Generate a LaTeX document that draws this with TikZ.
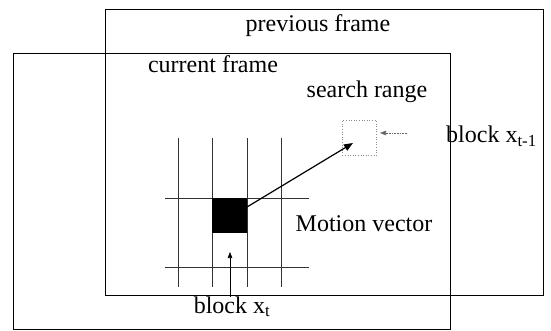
\documentclass[tikz,border=0pt]{standalone}
\usepackage{fontspec}
\setmainfont{Liberation Serif}
\usetikzlibrary{arrows.meta}
\begin{document}
\begin{tikzpicture}[x=1pt,y=-1pt,
  frame/.style={draw=black,line width=0.9pt},
  gridline/.style={draw=black!80,line width=0.5pt},
  lbl/.style={font=\fontsize{24}{28}\selectfont,inner sep=0pt},
  vec/.style={draw=black,line width=1.2pt,-{Triangle[length=9pt,width=7pt]}},
  thin arrow/.style={draw=black,line width=0.6pt,-{Triangle[length=6pt,width=4.5pt]}}]
\useasboundingbox (0,0) rectangle (551,331);
\fill[white] (0,0) rectangle (551,331);
% frames
\draw[frame] (105,9) rectangle (543,295);
\draw[frame] (13,53) rectangle (450,329);
% grid
\foreach \x/\n in {178/a,212/b,247/c,281/d}
  \draw[gridline] (\x,138) -- (\x,287);
\draw[gridline] (165,198) -- (309,198);
\draw[gridline] (165,267) -- (309,267);
% current block
\node[fill=black,minimum width=35pt,minimum height=35pt,inner sep=0pt,anchor=north west] (cur) at (212,198) {};
% search block (dotted)
\node[draw=black!45,dotted,line width=0.6pt,minimum width=34pt,minimum height=35pt,inner sep=0pt,anchor=north west] (prev) at (342,120) {};
% texts
\node[lbl,anchor=base] (tprev) at (318,32) {previous frame};
\node[lbl,anchor=base] (tcur) at (213,73) {current frame};
\node[lbl,anchor=base] (tsr) at (367,98) {search range};
\node[lbl,anchor=base] (tmv) at (364,231) {Motion vector};
\node[lbl,anchor=base west] (tbp) at (446,143) {block x\textsubscript{t-1}};
\node[lbl,anchor=base] (tbc) at (232,313) {block x\textsubscript{t}};
% arrows
\coordinate (mvs) at (247,207);
\coordinate (mvt) at (353,143);
\draw[vec] (mvs) -- (mvt);
\coordinate (ups) at (230,297);
\coordinate (upt) at (230,252);
\draw[thin arrow] (ups) -- (upt);
\coordinate (ls) at (407,133);
\coordinate (lt) at (380,133);
\draw[thin arrow,densely dotted,draw=black!60] (ls) -- (lt);
\end{tikzpicture}
\end{document}
